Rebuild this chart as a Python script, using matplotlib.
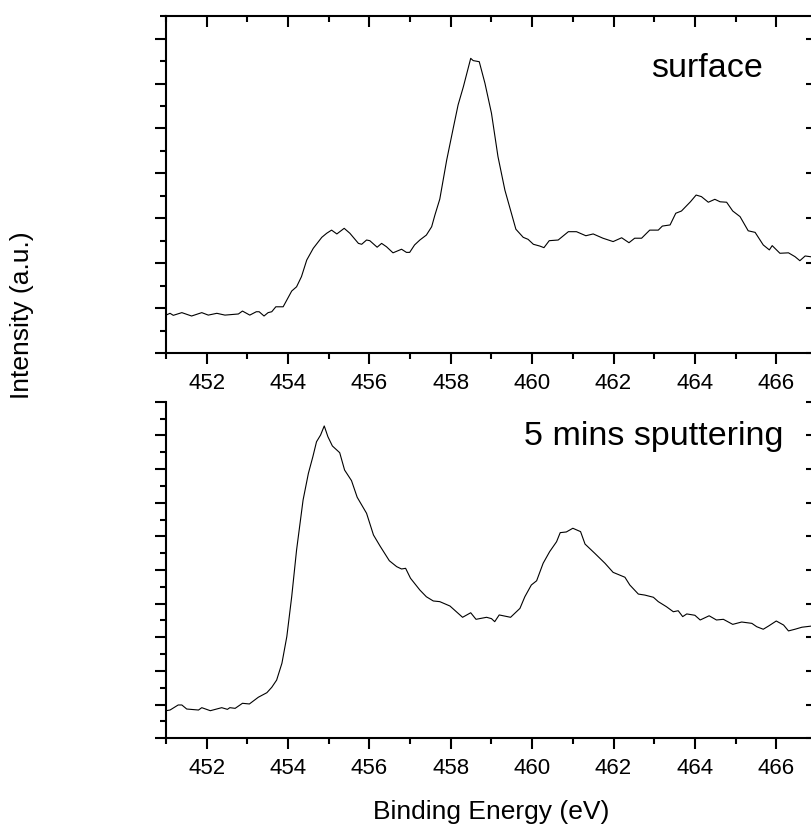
import matplotlib
matplotlib.use("Agg")
import matplotlib.pyplot as plt
from matplotlib.lines import TICKDOWN, TICKLEFT
from matplotlib.ticker import MultipleLocator, NullFormatter

plt.rcParams['font.family'] = ['Liberation Sans', 'DejaVu Sans']

# surface spectrum (binding energy in eV, intensity in a.u.)
surface_be = [451.0, 451.1, 451.18, 451.39, 451.63, 451.88, 452.04, 452.25, 452.45, 452.78,
              452.88, 453.06, 453.22, 453.29, 453.41, 453.51, 453.60, 453.70, 453.88, 454.09,
              454.21, 454.33, 454.46, 454.62, 454.83, 454.95, 455.07, 455.20, 455.38, 455.52,
              455.73, 455.81, 455.93, 456.01, 456.19, 456.30, 456.42, 456.58, 456.79, 456.91,
              456.99, 457.11, 457.24, 457.40, 457.53, 457.61, 457.73, 457.90, 458.06, 458.18,
              458.31, 458.49, 458.55, 458.70, 458.84, 459.00, 459.16, 459.33, 459.49, 459.60,
              459.78, 459.90, 460.03, 460.19, 460.29, 460.42, 460.64, 460.89, 461.09, 461.32,
              461.50, 461.74, 461.99, 462.20, 462.38, 462.52, 462.69, 462.89, 463.10, 463.20,
              463.39, 463.53, 463.67, 463.89, 464.03, 464.16, 464.33, 464.49, 464.62, 464.78,
              464.93, 465.11, 465.31, 465.48, 465.68, 465.83, 465.90, 466.09, 466.30, 466.46,
              466.58, 466.71, 466.83, 467.0]
surface_int = [1.70, 1.78, 1.69, 1.81, 1.66, 1.81, 1.70, 1.78, 1.70, 1.75,
               1.88, 1.70, 1.85, 1.85, 1.66, 1.81, 1.85, 2.07, 2.07, 2.77,
               2.96, 3.41, 4.15, 4.67, 5.16, 5.34, 5.48, 5.31, 5.56, 5.34,
               4.89, 4.85, 5.04, 5.01, 4.72, 4.89, 4.74, 4.47, 4.63, 4.49,
               4.49, 4.82, 5.04, 5.26, 5.63, 6.15, 6.86, 8.60, 10.01, 11.05,
               11.86, 13.12, 13.02, 12.97, 12.01, 10.68, 8.75, 7.26, 6.23, 5.52,
               5.16, 5.07, 4.85, 4.77, 4.70, 5.01, 5.04, 5.41, 5.41, 5.23,
               5.31, 5.12, 4.97, 5.14, 4.92, 5.12, 5.12, 5.48, 5.48, 5.66,
               5.71, 6.23, 6.33, 6.74, 7.04, 6.97, 6.72, 6.85, 6.74, 6.72,
               6.33, 6.08, 5.45, 5.38, 4.82, 4.60, 4.79, 4.45, 4.47, 4.30,
               4.12, 4.33, 4.30, 4.25]

# after 5 mins sputtering
sputter_be = [451.0, 451.1, 451.30, 451.39, 451.51, 451.80, 451.88, 452.09, 452.37, 452.51,
              452.57, 452.70, 452.88, 453.05, 453.27, 453.48, 453.60, 453.72, 453.85, 453.97,
              454.09, 454.21, 454.37, 454.50, 454.61, 454.70, 454.80, 454.89, 454.98, 455.09,
              455.27, 455.39, 455.56, 455.70, 455.93, 456.10, 456.26, 456.49, 456.67, 456.79,
              456.89, 457.01, 457.24, 457.40, 457.57, 457.73, 457.98, 458.29, 458.49, 458.62,
              458.88, 459.00, 459.08, 459.19, 459.47, 459.70, 459.82, 459.98, 460.11, 460.27,
              460.43, 460.60, 460.69, 460.84, 461.00, 461.19, 461.30, 461.54, 461.79, 461.99,
              462.28, 462.40, 462.61, 462.77, 462.98, 463.10, 463.30, 463.47, 463.59, 463.70,
              463.80, 464.00, 464.13, 464.35, 464.53, 464.70, 464.93, 465.15, 465.40, 465.52,
              465.68, 465.81, 466.00, 466.18, 466.30, 466.46, 466.63, 466.87, 467.0]
sputter_int = [1.64, 1.68, 1.98, 1.98, 1.74, 1.68, 1.82, 1.64, 1.82, 1.72,
               1.82, 1.78, 2.08, 2.04, 2.44, 2.71, 3.03, 3.46, 4.46, 6.04,
               8.41, 11.19, 14.16, 15.74, 16.73, 17.62, 18.02, 18.56, 17.92, 17.37,
               16.97, 15.94, 15.31, 14.32, 13.37, 12.08, 11.43, 10.55, 10.20, 10.06,
               10.10, 9.51, 8.81, 8.41, 8.16, 8.12, 7.86, 7.19, 7.46, 7.07,
               7.19, 7.11, 6.93, 7.33, 7.19, 7.72, 8.41, 9.11, 9.36, 10.40,
               11.09, 11.68, 12.22, 12.26, 12.48, 12.28, 11.54, 10.99, 10.40, 9.86,
               9.57, 9.11, 8.57, 8.51, 8.38, 8.12, 7.82, 7.52, 7.58, 7.23,
               7.39, 7.31, 7.03, 7.28, 7.03, 7.07, 6.77, 6.91, 6.83, 6.63,
               6.48, 6.67, 6.97, 6.73, 6.38, 6.48, 6.60, 6.67, 6.70]


def setup_axis(ax, ymax, label, label_x, label_y, top_ticks):
    ax.set_xlim(451, 467)
    ax.set_ylim(0, ymax)
    ax.xaxis.set_major_locator(MultipleLocator(2))
    ax.xaxis.set_minor_locator(MultipleLocator(1))
    ax.yaxis.set_major_locator(MultipleLocator(2))
    ax.yaxis.set_minor_locator(MultipleLocator(1))
    ax.yaxis.set_major_formatter(NullFormatter())
    for s in ax.spines.values():
        s.set_linewidth(1.5)
    ax.spines['top'].set_visible(top_ticks)
    ax.tick_params(axis='x', which='both', top=top_ticks, bottom=True)
    ax.tick_params(axis='y', which='both', left=True, right=True)
    ax.tick_params(which='both', width=1.5, labelsize=16, pad=6)
    ax.tick_params(which='major', length=8)
    ax.tick_params(which='minor', length=4)
    ax.text(label_x, label_y, label, transform=ax.transAxes, ha='right',
            va='baseline', fontsize=24.5)


def fix_tick_sides(ax):
    # left/bottom ticks point out, right/top ticks point in
    for t in ax.xaxis.get_major_ticks() + ax.xaxis.get_minor_ticks():
        t.tick1line.set_marker(TICKDOWN)
        t.tick2line.set_marker(TICKDOWN)
    for t in ax.yaxis.get_major_ticks() + ax.yaxis.get_minor_ticks():
        t.tick1line.set_marker(TICKLEFT)
        t.tick2line.set_marker(TICKLEFT)


fig = plt.figure(figsize=(8.12, 8.24), dpi=100)
ax1 = fig.add_axes([0.2044, 0.5712, 0.8017, 0.4093])
ax2 = fig.add_axes([0.2044, 0.1040, 0.8017, 0.4085])

ax1.plot(surface_be, surface_int, color='black', lw=0.8)
ax2.plot(sputter_be, sputter_int, color='black', lw=0.8)

setup_axis(ax1, 15, 'surface', 0.9166, 0.820, True)
setup_axis(ax2, 20, '5 mins sputtering', 0.948, 0.871, False)

fig.text(0.027, 0.6177, 'Intensity (a.u.)', rotation=90, ha='center', va='center', fontsize=19)
fig.text(0.605, 0.0061, 'Binding Energy (eV)', ha='center', va='baseline', fontsize=19)

fig.canvas.draw()
fix_tick_sides(ax1)
fix_tick_sides(ax2)

plt.savefig('out.png', dpi=100)
